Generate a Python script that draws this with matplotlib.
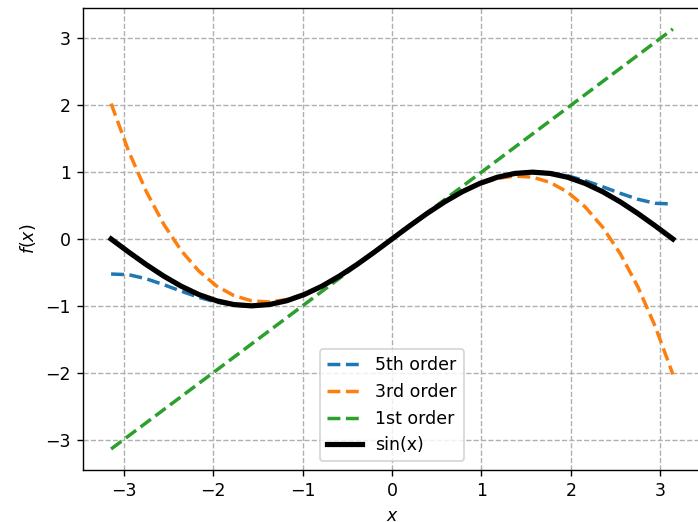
import matplotlib
matplotlib.use("Agg")
import matplotlib.pyplot as plt

# Sample positions (x from -pi to pi) and half-range values
x_pos = [0.0, 0.19635, 0.39270, 0.58905, 0.78540, 0.98175, 1.17810, 1.37445, 1.57080,
         1.76715, 1.96350, 2.15984, 2.35619, 2.55254, 2.74889, 2.94524, 3.14159]
sin_pos = [0.0, 0.19509, 0.38268, 0.55557, 0.70711, 0.83147, 0.92388, 0.98079, 1.0,
           0.98079, 0.92388, 0.83147, 0.70711, 0.55557, 0.38268, 0.19509, 0.0]
ord3_pos = [0.0, 0.19509, 0.38261, 0.55499, 0.70465, 0.82404, 0.90558, 0.94170, 0.92484,
            0.84740, 0.70184, 0.48060, 0.17607, -0.21929, -0.71306, -1.31281, -2.02612]
ord5_pos = [0.0, 0.19509, 0.38269, 0.55558, 0.70714, 0.83164, 0.92449, 0.98258, 1.00453,
            0.99101, 0.94505, 0.87228, 0.78123, 0.68370, 0.59493, 0.53400, 0.52404]

# curves are odd functions: mirror to negative side
x = [-v for v in x_pos[:0:-1]] + x_pos
sin_y = [-v for v in sin_pos[:0:-1]] + sin_pos
ord3 = [-v for v in ord3_pos[:0:-1]] + ord3_pos
ord5 = [-v for v in ord5_pos[:0:-1]] + ord5_pos
ord1 = list(x)

DPI = 125
fig = plt.figure(figsize=(698 / DPI, 522 / DPI), dpi=DPI)
ax = fig.add_axes([83/698, 1 - 470/522, 618/698, 462/522])

ax.plot(x, ord5, '--', lw=2, color='#1f77b4', label='5th order')
ax.plot(x, ord3, '--', lw=2, color='#ff7f0e', label='3rd order')
ax.plot(x, ord1, '--', lw=2, color='#2ca02c', label='1st order')
ax.plot(x, sin_y, '-', lw=3, color='black', label='sin(x)')

ax.grid(True, linestyle='--', color='#b0b0b0')
ax.set_xlabel('$x$')
ax.set_ylabel('$f(x)$')
ax.legend(loc='lower center')

fig.savefig('out.png', dpi=DPI)
